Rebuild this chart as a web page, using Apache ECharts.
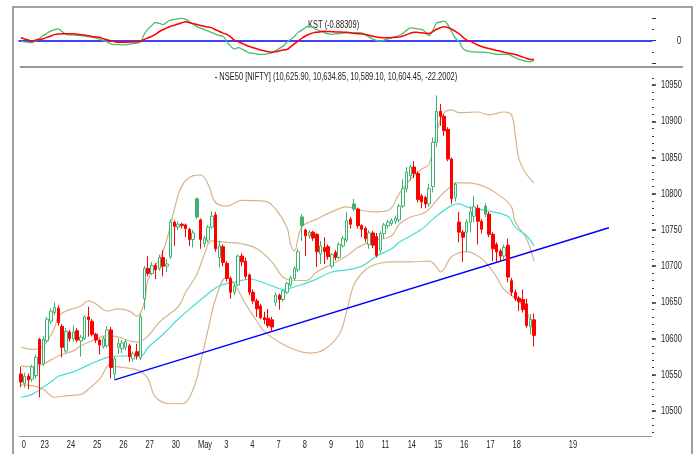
<!DOCTYPE html>
<html>
<head>
<meta charset="utf-8">
<script src="https://cdn.jsdelivr.net/npm/echarts@6/dist/echarts.min.js"></script>
<style>
html,body{margin:0;padding:0;background:#fff;}
#chart{width:697px;height:454px;}
</style>
</head>
<body>
<div id="chart"></div>
<script>
// time axis: 7 hourly candles a day, labels on the first candle of each day
const dayLabels = ['0','23','24','25','26','27','30','May','3','4','7','8','9','10','11','14','15','16','17','18','19'];
const dayStarts = [0,5,12,19,26,33,40,47,54,61,68,75,82,89,96,103,110,117,124,131,146];
const slotCount = 169;
const priceTicks = [10500,10550,10600,10650,10700,10750,10800,10850,10900,10950];

// NIFTY hourly candles
const opens = [10551,10538,10548,10544,10549,10599,10565,10597,10624,10636,10642,10617,10583,10609,10600,10611,10597,10600,10630,10624,
  10606,10598,10589,10590,10612,10551,10588,10586,10588,10590,10572,10582,10573,10655,10697,10690,10701,10697,10712,10700,
  10713,10761,10754,10758,10757,10751,10737,10793,10764,10731,10736,10754,10771,10712,10727,10704,10683,10664,10674,10714,
  10707,10688,10664,10652,10645,10629,10628,10626,10650,10660,10654,10664,10674,10683,10695,10768,10750,10742,10747,10744,
  10717,10726,10727,10700,10719,10712,10728,10736,10765,10786,10779,10756,10752,10730,10746,10741,10722,10745,10756,10759,
  10762,10764,10783,10807,10825,10837,10828,10797,10795,10786,10810,10871,10914,10907,10889,10848,10795,10761,10747,10747,
  10761,10769,10780,10762,10783,10772,10744,10730,10721,10714,10729,10680,10664,10656,10654,10648,10617,10625.90];
const closes = [10540,10548,10543,10561,10574,10565,10599,10627,10638,10643,10622,10588,10610,10600,10609,10598,10602,10630,10626,10606,
  10598,10591,10600,10612,10560,10572,10593,10594,10596,10575,10579,10576,10630,10697,10690,10701,10695,10712,10700,10703,
  10761,10755,10758,10756,10752,10737,10746,10768,10737,10739,10754,10769,10724,10728,10705,10683,10664,10672,10714,10706,
  10686,10664,10652,10641,10629,10626,10618,10616,10660,10654,10666,10676,10684,10697,10720,10756,10742,10747,10739,10720,
  10728,10720,10713,10716,10712,10730,10738,10763,10758,10779,10756,10751,10738,10746,10729,10715,10745,10757,10761,10763,
  10766,10783,10807,10830,10837,10828,10792,10789,10786,10807,10871,10914,10907,10887,10848,10793,10813,10747,10740,10761,
  10775,10782,10762,10751,10772,10744,10724,10720,10714,10726,10685,10664,10655,10651,10640,10618,10626.65,10604.45];
const lows = [10533,10532,10530,10540,10545,10519,10562,10594,10620,10632,10618,10574,10580,10596,10596,10595,10575,10598,10603,10603,
  10594,10578,10586,10588,10545,10543,10579,10580,10584,10568,10568,10571,10570,10640,10686,10688,10682,10694,10686,10692,
  10710,10728,10750,10752,10740,10728,10726,10765,10724,10726,10733,10752,10720,10698,10700,10679,10655,10660,10672,10700,
  10682,10660,10648,10630,10627,10620,10615,10609,10645,10640,10651,10661,10671,10680,10692,10735,10714,10738,10735,10699,
  10703,10703,10709,10697,10708,10710,10726,10733,10752,10776,10752,10740,10733,10724,10725,10712,10718,10738,10752,10756,
  10758,10760,10780,10802,10818,10822,10788,10780,10780,10782,10802,10865,10894,10880,10845,10786,10789,10733,10706,10720,
  10747,10761,10730,10745,10768,10740,10707,10706,10706,10710,10678,10659,10652,10638,10636,10615,10606,10589.10];
const highs = [10561,10553,10552,10564,10578,10601,10603,10630,10642,10650,10646,10620,10615,10612,10618,10614,10605,10632,10644,10627,
  10608,10600,10603,10617,10616,10575,10600,10598,10599,10593,10582,10593,10634,10700,10714,10706,10704,10716,10722,10710,
  10765,10763,10762,10760,10759,10753,10750,10795,10766,10742,10757,10776,10775,10735,10730,10707,10686,10676,10716,10718,
  10712,10690,10668,10655,10648,10637,10641,10630,10664,10662,10668,10679,10687,10700,10724,10772,10752,10750,10749,10746,
  10735,10740,10730,10718,10722,10733,10742,10775,10768,10793,10781,10758,10755,10750,10749,10746,10748,10760,10764,10766,
  10770,10786,10820,10837,10840,10845,10831,10800,10797,10814,10878,10936,10924,10910,10892,10850,10816,10775,10750,10765,
  10783,10797,10785,10765,10787,10775,10747,10733,10724,10730,10738,10684,10668,10659,10668,10655,10634,10634.85];

// Bollinger bands and average, read as [candle index, price]
const bandUpper = [[0,10588],[3,10585],[6,10590],[9,10615],[10,10631],[12,10638],[16,10645],[18,10652],[20,10648],[23,10638],
  [26,10641],[29,10638],[31,10631],[33,10651],[34,10682],[38,10721],[41,10779],[43,10811],[46,10825],[48,10826],[50,10813],
  [52,10788],[55,10783],[59,10791],[65,10790],[68,10779],[71,10754],[72,10731],[73,10721],[75,10754],[79,10765],[83,10775],
  [87,10782],[90,10778],[94,10775],[98,10777],[101,10800],[104,10820],[107,10834],[109,10841],[111,10885],[113,10912],
  [115,10916],[117,10912],[122,10913],[125,10909],[129,10913],[131,10909],[132,10880],[133,10848],[135,10827],[137,10815]];
const bandMiddle = [[0,10562],[3,10561],[6,10565],[10,10576],[14,10583],[16,10590],[19,10597],[23,10604],[26,10602],[29,10597],
  [31,10595],[34,10604],[37,10623],[42,10644],[44,10664],[47,10689],[49,10717],[51,10735],[55,10733],[59,10731],[63,10724],
  [67,10706],[71,10682],[76,10680],[79,10692],[83,10703],[87,10714],[90,10726],[94,10735],[99,10742],[101,10758],[104,10768],
  [107,10772],[109,10779],[112,10797],[115,10811],[116,10815],[119,10815],[122,10813],[125,10807],[129,10793],[131,10782],
  [132,10761],[135,10738],[137,10707]];
const bandLower = [[0,10536],[3,10535],[6,10530],[9,10519],[12,10521],[16,10523],[18,10530],[21,10544],[24,10565],[25,10562],
  [29,10559],[32,10555],[34,10544],[36,10519],[40,10510],[43,10510],[46,10530],[48,10568],[50,10613],[52,10655],[55,10685],
  [57,10675],[60,10648],[63,10624],[65,10610],[69,10595],[73,10585],[77,10580],[81,10585],[85,10606],[87,10638],[89,10675],
  [92,10695],[95,10703],[99,10706],[104,10706],[109,10707],[111,10699],[112,10692],[113,10696],[115,10713],[119,10720],
  [122,10714],[124,10706],[127,10685],[129,10668],[133,10651],[135,10638],[136,10623],[137,10606]];
const avgLine = [[0,10519],[3,10523],[6,10533],[9,10544],[10,10548],[14,10554],[17,10561],[20,10568],[24,10575],[27,10576],
  [32,10576],[34,10588],[38,10606],[42,10627],[46,10645],[50,10662],[53,10673],[57,10678],[61,10682],[67,10673],[70,10668],
  [74,10673],[78,10680],[83,10692],[87,10695],[91,10700],[95,10714],[99,10724],[101,10733],[107,10751],[110,10765],
  [115,10784],[117,10786],[119,10782],[125,10776],[130,10769],[132,10754],[135,10742],[137,10728]];
const trendLine = [[25,10543],[157,10753]];

// KST and its signal line
const kstLine = [-0.03,-0.06,-0.08,-0.09,-0.02,0.10,0.22,0.33,0.42,0.48,0.52,0.40,0.28,0.25,0.24,0.23,0.22,0.20,0.17,0.14,
  0.12,0.06,0.00,-0.06,-0.15,-0.18,-0.18,-0.19,-0.18,-0.16,-0.14,-0.12,-0.05,0.30,0.52,0.68,0.80,0.76,0.71,0.82,
  0.91,0.94,0.97,0.98,0.94,0.84,0.72,0.62,0.55,0.48,0.42,0.35,0.28,0.22,0.19,-0.05,-0.25,-0.38,-0.32,-0.38,
  -0.47,-0.55,-0.57,-0.60,-0.62,-0.61,-0.59,-0.55,-0.45,-0.35,-0.25,-0.08,0.04,0.18,0.35,0.46,0.58,0.64,0.58,0.48,
  0.42,0.35,0.30,0.27,0.29,0.31,0.33,0.34,0.34,0.34,0.35,0.34,0.25,0.15,0.06,0.00,-0.03,0.02,0.07,0.12,
  0.17,0.22,0.32,0.45,0.56,0.54,0.51,0.49,0.38,0.22,0.45,0.78,0.82,0.86,0.70,0.40,0.10,-0.05,-0.35,-0.45,
  -0.49,-0.51,-0.52,-0.52,-0.53,-0.55,-0.58,-0.62,-0.62,-0.62,-0.62,-0.68,-0.76,-0.84,-0.88,-0.93,-0.95,-0.88];
const kstSignal = [0.12,0.07,0.02,-0.03,0.02,0.05,0.08,0.14,0.20,0.26,0.29,0.30,0.30,0.30,0.30,0.28,0.26,0.24,0.21,0.18,
  0.16,0.14,0.08,0.03,-0.01,-0.05,-0.08,-0.08,-0.08,-0.07,-0.07,-0.06,-0.03,0.05,0.12,0.19,0.28,0.40,0.49,0.56,
  0.63,0.68,0.73,0.79,0.83,0.79,0.75,0.71,0.67,0.63,0.60,0.56,0.48,0.40,0.33,0.27,0.16,0.02,-0.05,-0.12,
  -0.20,-0.27,-0.32,-0.37,-0.42,-0.46,-0.50,-0.52,-0.50,-0.46,-0.42,-0.40,-0.28,-0.15,-0.03,0.10,0.20,0.28,0.34,0.37,
  0.39,0.41,0.40,0.39,0.38,0.38,0.37,0.37,0.34,0.32,0.30,0.29,0.27,0.23,0.19,0.16,0.13,0.12,0.12,0.13,
  0.14,0.15,0.20,0.26,0.32,0.37,0.36,0.34,0.32,0.31,0.40,0.50,0.57,0.61,0.58,0.50,0.41,0.30,0.15,0.02,
  -0.03,-0.12,-0.20,-0.27,-0.32,-0.36,-0.40,-0.44,-0.48,-0.52,-0.56,-0.59,-0.62,-0.68,-0.74,-0.79,-0.84,-0.84];

const kstTitle = 'KST (-0.88309)';
const priceTitle = '- NSE50 [NIFTY] (10,625.90, 10,634.85, 10,589.10, 10,604.45, -22.2002)';

const FONT = "'Liberation Sans', Arial, sans-serif";
const GREEN = '#3cb371', RED = '#ff0000';

const categories = [];
for (let i = 0; i < slotCount; i++) categories.push('');
dayStarts.forEach((s, k) => { categories[s] = dayLabels[k]; });
const isDayStart = (idx) => dayStarts.indexOf(idx) >= 0;

// hollow when close > open, colour by close vs previous close
const candles = opens.map((o, i) => {
  const c = closes[i];
  const prev = i > 0 ? closes[i - 1] : o;
  const col = c >= prev ? GREEN : RED;
  const fill = c >= o ? '#ffffff' : col;
  return {
    value: [o, c, lows[i], highs[i]],
    itemStyle: { color: fill, color0: fill, borderColor: col, borderColor0: col }
  };
});

// y placement of the price panel: 10500 at y=411, 0.724 px per point
const pxPerPt = 0.724, y10500 = 411, mainTop = 72, mainBottom = 436;
const priceMin = 10500 - (mainBottom - y10500) / pxPerPt;
const priceMax = 10500 + (y10500 - mainTop) / pxPerPt;
const yOf = (v) => y10500 - (v - 10500) * pxPerPt;

const chart = echarts.init(document.getElementById('chart'), null, { renderer: 'canvas' });
const bandLine = (data, color) => ({
  type: 'line', xAxisIndex: 1, yAxisIndex: 1, data: data, smooth: 0.4, symbol: 'none',
  lineStyle: { color: color, width: 1.2 }, z: 1, silent: true
});
// narrow text, like the condensed face of the original
const caption = (text, x, y, align) => ({
  type: 'text', x: x, y: y, scaleX: 0.68, silent: true,
  style: { text: text, fill: '#222', font: '11px ' + FONT, textAlign: align, textVerticalAlign: 'middle' }
});
const frame = [
  { type: 'rect', shape: { x: 13, y: 7, width: 679, height: 470 }, style: { fill: null, stroke: '#a0a0a0', lineWidth: 2 }, silent: true },
  { type: 'line', shape: { x1: 20, y1: 67, x2: 683, y2: 67 }, style: { stroke: '#333', lineWidth: 1 }, silent: true },
  caption(kstTitle, 308, 25, 'left'),
  caption(priceTitle, 336, 77, 'center')
];

chart.setOption({
  animation: false,
  textStyle: { fontFamily: FONT },
  grid: [
    { left: 19, width: 633, top: 18, height: 45 },
    { left: 19, width: 633, top: mainTop, height: mainBottom - mainTop },
    { left: 19, width: 633, top: yOf(10950), height: yOf(10500) - yOf(10950) },
    { left: 19, width: 633, top: yOf(10960), height: yOf(10470) - yOf(10960) }
  ],
  xAxis: [
    { type: 'category', gridIndex: 0, data: categories, boundaryGap: true,
      axisLine: { onZero: true, lineStyle: { color: '#0000ff', width: 1.5 } },
      axisTick: { show: false }, axisLabel: { show: false } },
    { type: 'category', gridIndex: 1, data: categories, boundaryGap: true,
      axisLine: { lineStyle: { color: '#999', width: 1 } },
      axisTick: { alignWithLabel: true, interval: (i) => isDayStart(i), length: 15, lineStyle: { color: '#666' } },
      axisLabel: { show: false } },
    { type: 'category', gridIndex: 2, data: categories, show: false },
    { type: 'category', gridIndex: 3, data: categories, show: false }
  ],
  yAxis: [
    { type: 'value', gridIndex: 0, position: 'right', min: -1, max: 1, interval: 1,
      axisLine: { show: false }, splitLine: { show: false },
      axisTick: { show: true, length: 4, lineStyle: { color: '#333' } },
      minorTick: { show: true, splitNumber: 2, length: 2, lineStyle: { color: '#333' } },
      axisLabel: { show: false } },
    { type: 'value', gridIndex: 1, position: 'right', min: priceMin, max: priceMax,
      axisLine: { show: false }, splitLine: { show: false }, axisTick: { show: false }, axisLabel: { show: false } },
    { type: 'value', gridIndex: 2, position: 'right', min: 10500, max: 10950, interval: 50,
      axisLine: { show: false }, splitLine: { show: false },
      axisTick: { show: true, length: 4, lineStyle: { color: '#333', width: 1.5 } },
      axisLabel: { show: false } },
    { type: 'value', gridIndex: 3, position: 'right', min: 10470, max: 10960, interval: 10,
      axisLine: { show: false }, splitLine: { show: false },
      axisTick: { show: true, length: 2, lineStyle: { color: '#333' } },
      axisLabel: { show: false } }
  ],
  graphic: frame,
  series: [
    { type: 'line', xAxisIndex: 0, yAxisIndex: 0, data: kstLine, smooth: 0.4, symbol: 'none',
      lineStyle: { color: '#4cbb70', width: 1.3 }, z: 3 },
    { type: 'line', xAxisIndex: 0, yAxisIndex: 0, data: kstSignal, smooth: 0.4, symbol: 'none',
      lineStyle: { color: RED, width: 1.5 }, z: 4 },
    bandLine(bandUpper, '#d8b48c'),
    bandLine(bandMiddle, '#d8b48c'),
    bandLine(bandLower, '#d8b48c'),
    bandLine(avgLine, '#40e0d0'),
    { type: 'line', xAxisIndex: 1, yAxisIndex: 1, data: trendLine, symbol: 'none',
      lineStyle: { color: '#0000ff', width: 1.5 }, z: 2 },
    { type: 'candlestick', xAxisIndex: 1, yAxisIndex: 1, data: candles, barWidth: 3, z: 5 }
  ]
});

// tick labels placed through the axes' own scales, drawn narrow
const labels = [];
priceTicks.forEach((v) => {
  labels.push(caption(String(v), 661, chart.convertToPixel({ yAxisIndex: 2 }, v), 'left'));
});
dayStarts.forEach((s, k) => {
  labels.push(caption(dayLabels[k], chart.convertToPixel({ xAxisIndex: 1 }, s) + 1, 445, 'left'));
});
labels.push(caption('0', 677, chart.convertToPixel({ yAxisIndex: 0 }, 0), 'left'));
chart.setOption({ graphic: frame.concat(labels) });
</script>
</body>
</html>
